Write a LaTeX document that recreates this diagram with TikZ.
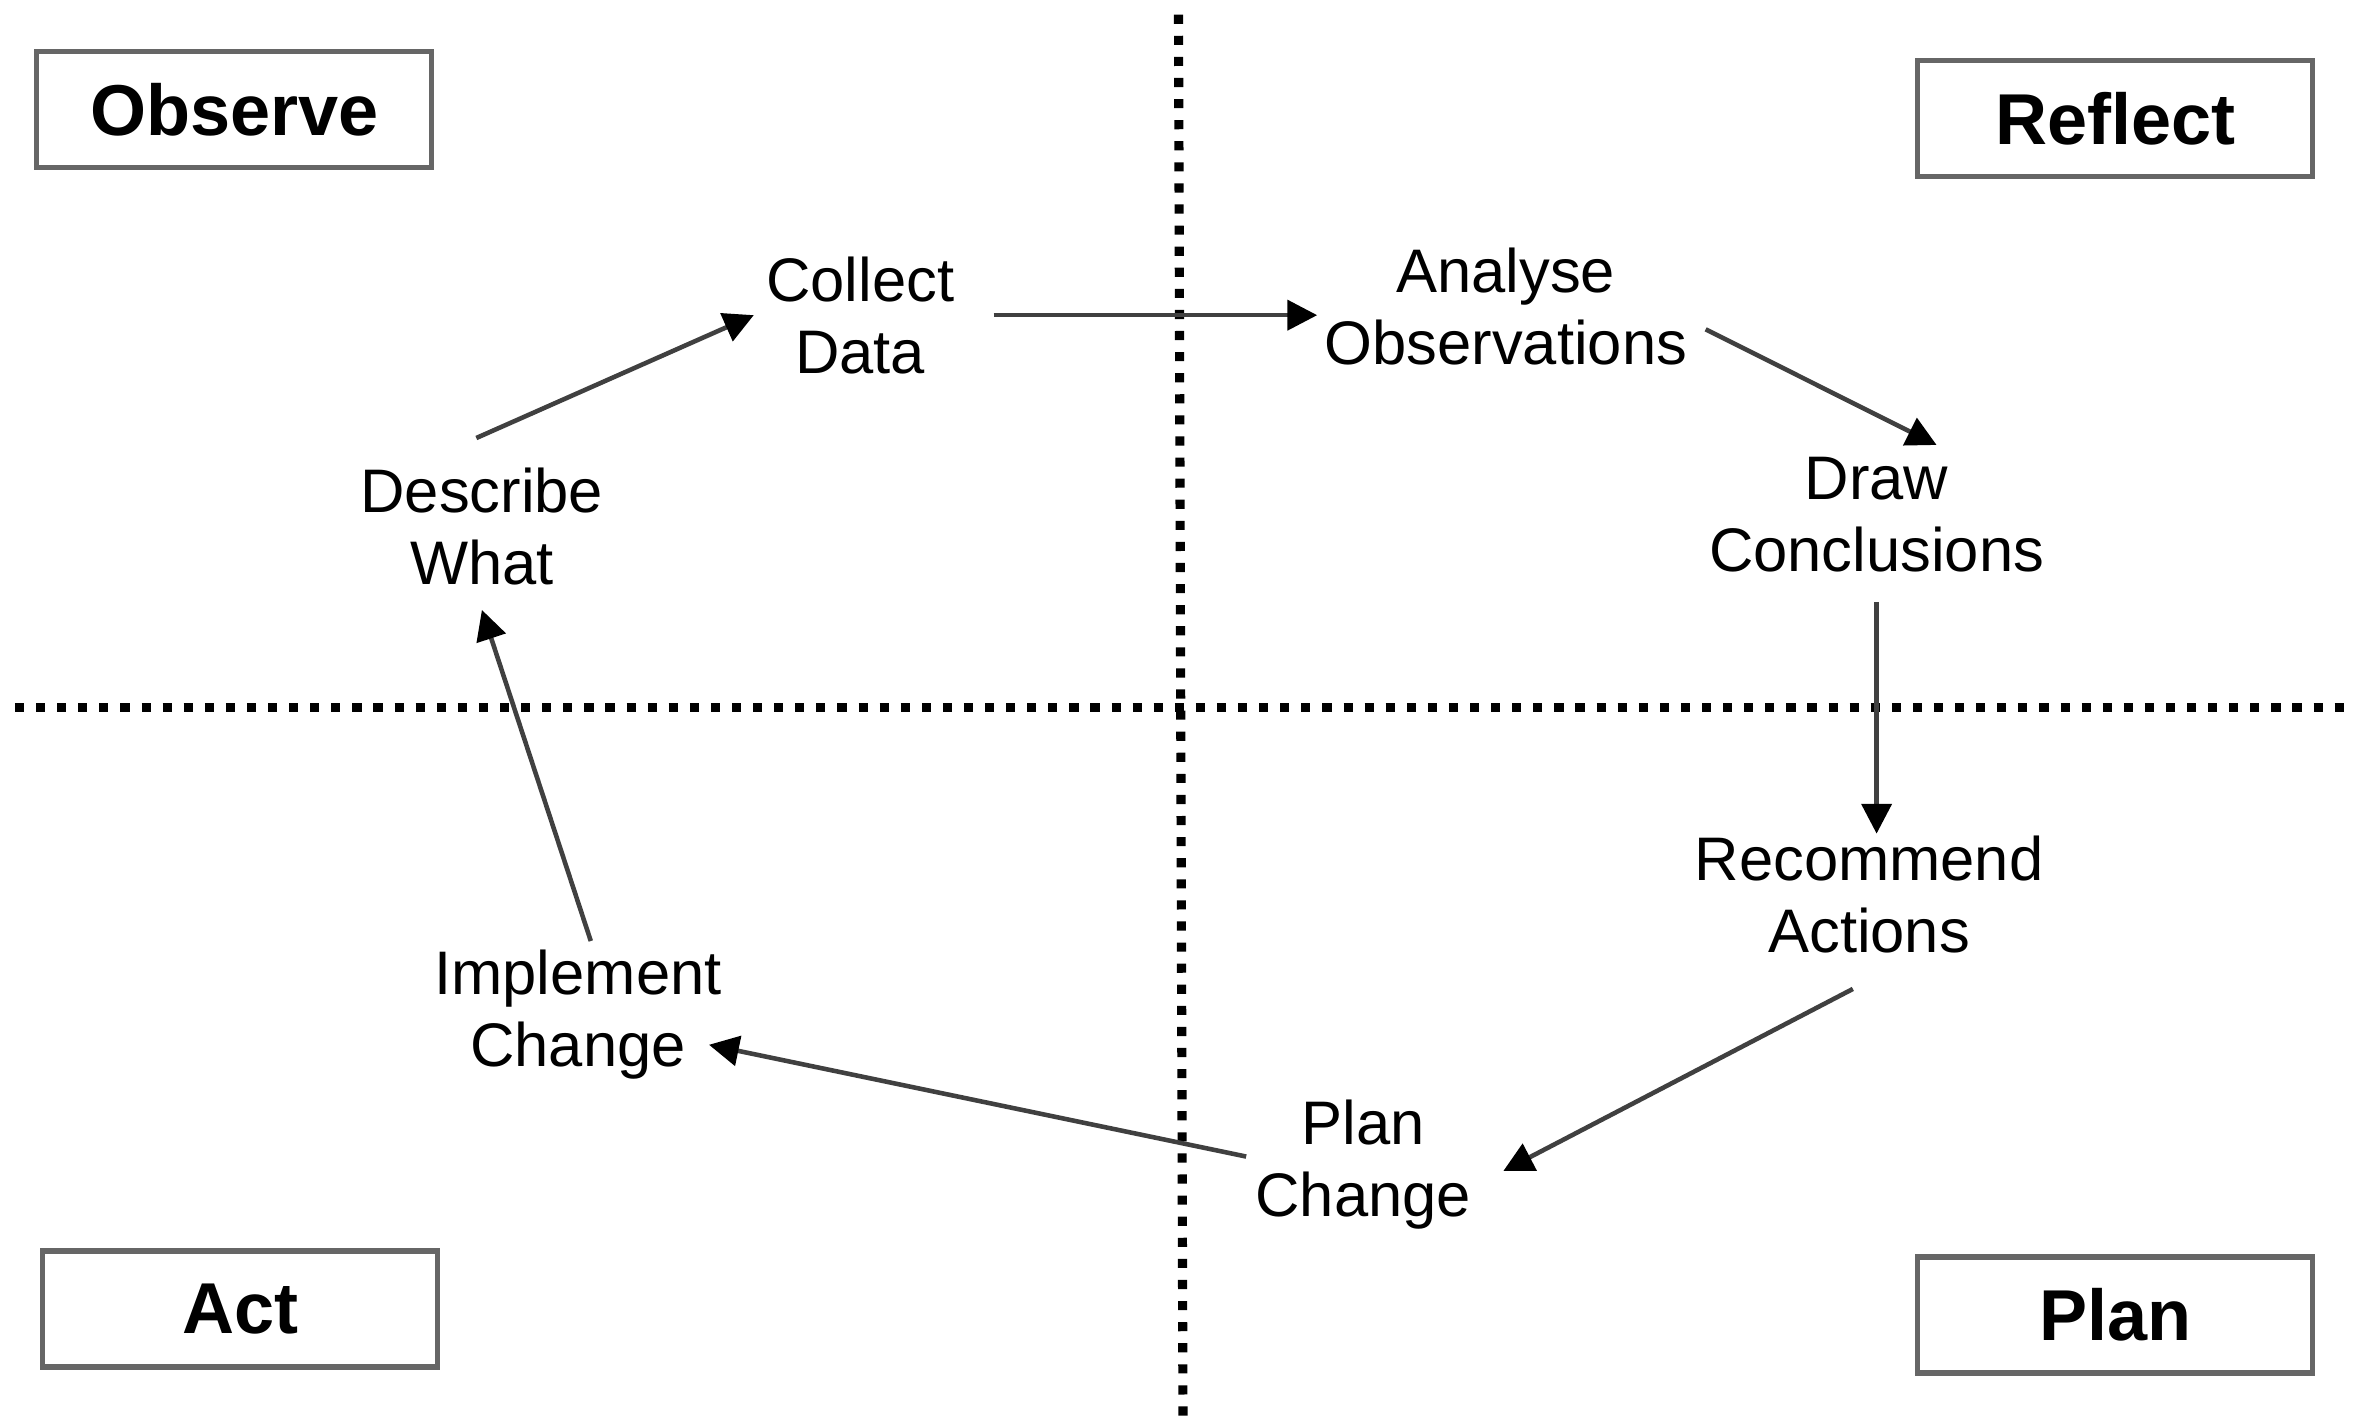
\documentclass[tikz,border=0pt]{standalone}
\usepackage{fontspec}
\setmainfont{Liberation Sans}
\usetikzlibrary{arrows.meta,positioning,calc}

\begin{document}
\begin{tikzpicture}[
    % --- 全域樣式設定 ---
    phase box/.style={draw=black!60, line width=1.5pt, rectangle, minimum width=3.95cm, minimum height=1.16cm, font=\fontsize{20.5}{24}\selectfont\bfseries},
    step text/.style={align=center, font=\fontsize{17.5}{20.5}\selectfont},
    % 實線箭頭 (流程)
    flow/.style={line width=1.3pt, draw=black!75, -{Triangle[length=8.5pt, width=8.5pt, color=black]}, shorten <=2pt},
    % 點線 (象限分隔)
    grid line/.style={line width=2.6pt, dash pattern=on 2.6pt off 3.4pt}
]
    \useasboundingbox (0,0) rectangle (23.54,14.247);

    % --- 1. 分隔線 ---
    \coordinate (v_top) at (11.785,14.10);
    \coordinate (v_bottom) at (11.83,0);
    \coordinate (h_left) at (0.15,7.176);
    \coordinate (h_right) at (23.54,7.176);
    \draw[grid line] (v_top) -- (v_bottom);
    \draw[grid line] (h_left) -- (h_right);

    % --- 2. 四個角落的方框 ---
    \node[phase box] (observe) at (2.342,13.151) {Observe};
    \node[phase box] (reflect) at (21.153,13.061) {Reflect};
    \node[phase box] (act) at (2.402,1.156) {Act};
    \node[phase box] (plan) at (21.153,1.096) {Plan};

    % --- 3. 循環步驟 ---
    \node[step text] (collect) at (8.602,11.095) {Collect\\Data};
    \node[step text] (analyse) at (15.058,11.185) {Analyse\\Observations};
    \node[step text] (conclude) at (18.766,9.098) {Draw\\Conclusions};
    \node[step text] (recommend) at (18.691,5.300) {Recommend\\Actions};
    \node[step text] (planchg) at (13.632,2.597) {Plan\\Change};
    \node[step text] (implement) at (5.780,4.099) {Implement\\Change};
    \node[step text] (describe) at (4.819,8.978) {Describe\\What};

    % --- 4. 箭頭 ---
    \draw[flow] ([shift={(-0.12,0.15)}]describe.north) -- (collect.west);
    \draw[flow] ([xshift=0.2cm]collect.east) -- ([xshift=0.05cm]collect.east -| analyse.west);
    \draw[flow] ([yshift=-0.2cm]analyse.east) -- ([xshift=0.6cm]conclude.north);
    \draw[flow] ([yshift=-0.1cm]conclude.south) -- ([yshift=-0.1cm]conclude.south |- recommend.north);
    \draw[flow] ([shift={(-0.1,-0.2)}]recommend.south) -- ([shift={(0.2,-0.06)}]planchg.east);
    \draw[flow] ([shift={(0.1,0.07)}]planchg.west) -- ([shift={(-0.25,-0.3)}]implement.east);
    \draw[flow] ([shift={(0.15,-0.1)}]implement.north) -- ([yshift=-0.12cm]describe.south);

\end{tikzpicture}
\end{document}
